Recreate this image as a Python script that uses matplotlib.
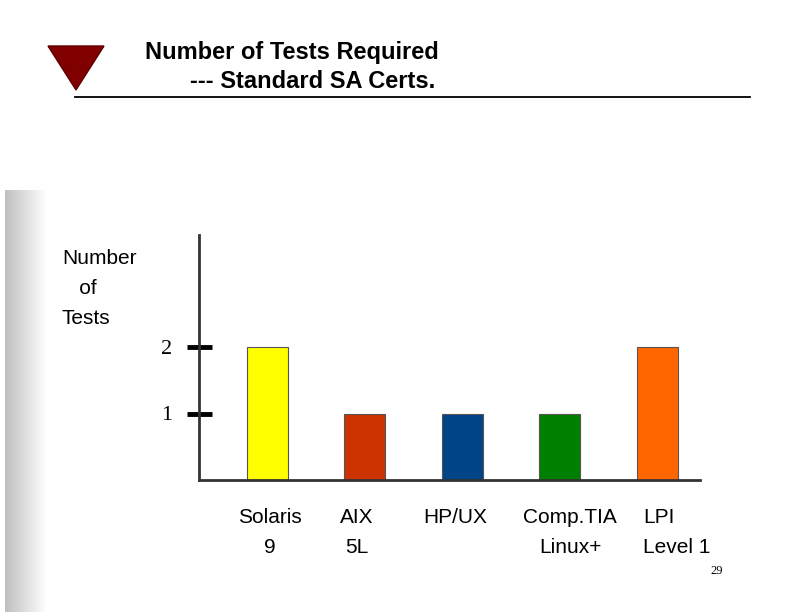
import matplotlib
matplotlib.use("Agg")
import matplotlib.pyplot as plt
import numpy as np
from matplotlib.patches import Polygon

categories = ["Solaris\n9", "AIX\n5L", "HP/UX", "Comp.TIA\nLinux+", "LPI\nLevel 1"]
values = [2, 1, 1, 1, 2]
colors = ["#FFFF00", "#CC3300", "#004488", "#008000", "#FF6600"]
yticks = [1, 2]

W, H = 792, 612
fig = plt.figure(figsize=(7.92, 6.12), dpi=100)
def fx(x): return x / W
def fy(y): return 1 - y / H

gax = fig.add_axes([fx(5), 0, fx(47) - fx(5), fy(190)])
grad = np.linspace(0.75, 1.0, 100)[None, :]
gax.imshow(grad, cmap="gray", vmin=0, vmax=1, aspect="auto", extent=[0, 1, 0, 1])
gax.axis("off")

fig.patches.append(Polygon([[fx(48), fy(46)], [fx(104), fy(46)], [fx(76), fy(90)]],
                           closed=True, transform=fig.transFigure, facecolor="#800000", edgecolor="#600000"))
fig.add_artist(plt.Line2D([fx(75), fx(750)], [fy(97), fy(97)], color="black", lw=1.3))
fig.text(fx(145), fy(52), "Number of Tests Required", ha="left", va="center",
         fontsize=17, fontweight="bold", family="Liberation Sans")
fig.text(fx(190), fy(82), "--- Standard SA Certs.", ha="left", va="center",
         fontsize=17, fontweight="bold", family="Liberation Sans")

ax = fig.add_axes([fx(199), fy(480), fx(700) - fx(199), fy(235) - fy(480)])
x = np.arange(len(values))
ax.bar(x, values, width=0.42, color=colors, edgecolor="#555555", linewidth=0.8)
ax.set_xlim(-0.70, 4.44)
ax.set_ylim(0, 245 / 66.5)
for s in ["top", "right"]:
    ax.spines[s].set_visible(False)
for s in ["left", "bottom"]:
    ax.spines[s].set_linewidth(2)
    ax.spines[s].set_color("#333333")
ax.set_xticks([])
ax.set_yticks(yticks)
ax.set_yticklabels([str(t) for t in yticks], family="Liberation Serif", fontsize=16)
ax.tick_params(axis="y", length=18, width=3.5, direction="inout", pad=10, color="black")

label_x = [270, 357, 455, 570, 643]
for lx, lab in zip(label_x, categories):
    ha = "left" if lab.startswith("LPI") else "center"
    fig.text(fx(lx), fy(508), lab, ha=ha, va="top", fontsize=15, family="Liberation Sans",
             linespacing=1.75, multialignment="left" if ha == "left" else "center")

fig.text(fx(62), fy(249), "Number\n   of\nTests", ha="left", va="top", fontsize=15,
         family="Liberation Sans", linespacing=1.75)
fig.text(fx(710), fy(571), "29", ha="left", va="center", fontsize=9, family="Liberation Serif")

fig.savefig("out.png", dpi=100)
